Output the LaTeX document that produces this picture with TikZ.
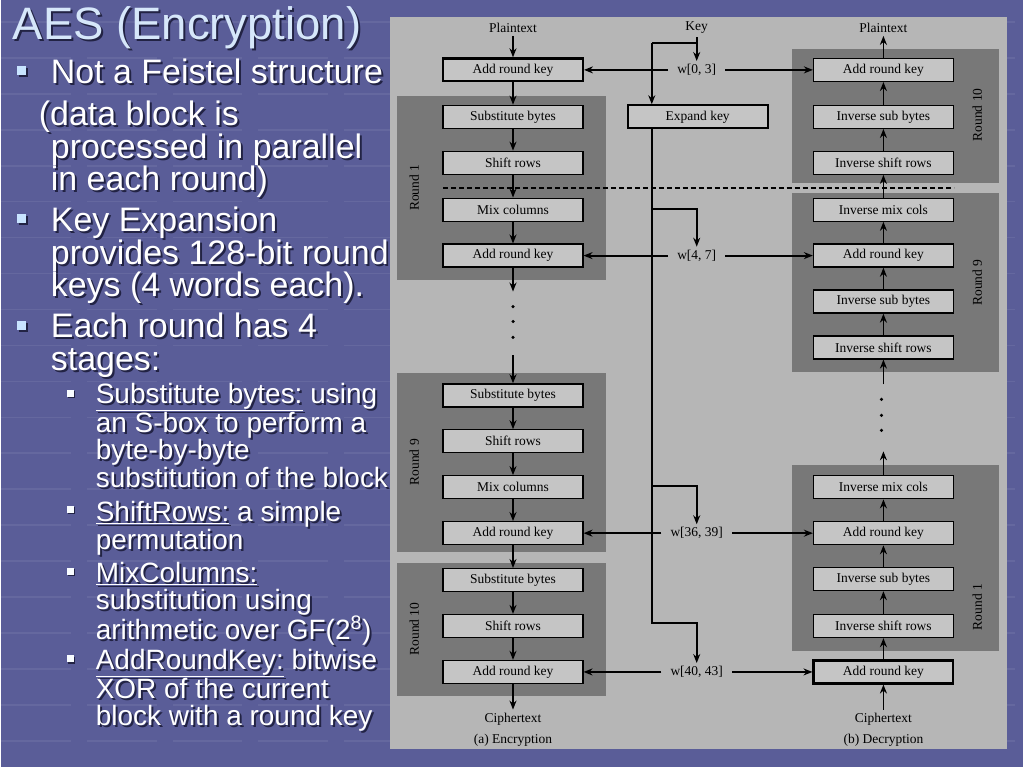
\documentclass[tikz,border=0pt]{standalone}
\usepackage{fontspec}
\setmainfont{Liberation Sans}
\newfontfamily\timesfont{Liberation Serif}
\usetikzlibrary{arrows.meta}

\definecolor{slidebg}{RGB}{90,93,152}
\definecolor{panelgray}{RGB}{182,182,182}
\definecolor{rounddark}{RGB}{120,120,120}
\definecolor{stagefill}{RGB}{197,197,197}
\definecolor{titleblue}{RGB}{214,231,250}
\definecolor{bulletblue}{RGB}{200,228,255}
\definecolor{shadowc}{RGB}{34,35,68}

% slide text with its drop shadow: name, x, y of last baseline, style, text
\newcommand{\slideline}[5]{%
  \node [#4, text=shadowc] (#1s) at ({#2+2}, {#3+2}) {#5};
  \node [#4] (#1) at (#2, #3) {#5};}

\begin{document}
\begin{tikzpicture}[x=1pt, y=-1pt,
  stage/.style={draw, fill=stagefill, line width=1.3pt, minimum width=140pt, minimum height=23pt, inner sep=0pt, font=\timesfont\fontsize{13.5}{15}\selectfont},
  keystage/.style={stage, line width=2.2pt},
  lbl/.style={inner sep=3pt, font=\timesfont\fontsize{13.5}{15}\selectfont},
  wlbl/.style={lbl, inner xsep=9pt},
  rlbl/.style={lbl, rotate=90},
  dotn/.style={circle, fill=black, minimum size=3.5pt, inner sep=0pt},
  arr/.style={-{Stealth[length=9pt, width=7pt]}, line width=1.8pt},
  stripe/.style={white, opacity=.07, line width=1.6pt, dash pattern=on 70pt off 16pt},
  head/.style={anchor=base west, inner sep=0pt, text=titleblue, font=\fontsize{45.5}{45.5}\selectfont},
  lvlone/.style={anchor=base west, inner sep=0pt, align=left, text=white, font=\fontsize{34}{32.5}\selectfont},
  lvltwo/.style={anchor=base west, inner sep=0pt, align=left, text=white, font=\fontsize{28}{27.5}\selectfont},
  sqone/.style={fill=bulletblue, minimum size=9pt, inner sep=0pt},
  sqtwo/.style={fill=white!88!bulletblue, minimum size=7pt, inner sep=0pt},
  sqshadow/.style={fill=shadowc, inner sep=0pt}]

  % slide background
  \fill [slidebg] (0,0) rectangle (1024,768);
  \foreach \y in {22,58,...,760}
    \draw [stripe] (0,\y) -- (1024,\y);
  \fill [panelgray] (390,17) rectangle (1008,750);

  % round blocks
  \fill [rounddark] (397,96) rectangle (606,280);
  \fill [rounddark] (397,374) rectangle (606,553);
  \fill [rounddark] (397,564) rectangle (606,697);
  \fill [rounddark] (792,49) rectangle (1000,183);
  \fill [rounddark] (792,193) rectangle (1000,373);
  \fill [rounddark] (792,466) rectangle (1000,652);
  \node [rlbl] (rl1) at (414,188) {Round 1};
  \node [rlbl] (rl9) at (414,463) {Round 9};
  \node [rlbl] (rl10) at (414,630) {Round 10};
  \node [rlbl] (rr10) at (978,115) {Round 10};
  \node [rlbl] (rr9) at (978,283) {Round 9};
  \node [rlbl] (rr1) at (978,608) {Round 1};

  % encryption
  \node [lbl] (ptl) at (513,28) {Plaintext};
  \node [keystage] (ea0) at (513,70) {Add round key};
  \node [stage] (e1s) at (513,117) {Substitute bytes};
  \node [stage] (e1r) at (513,163) {Shift rows};
  \node [stage] (e1m) at (513,210) {Mix columns};
  \node [stage] (e1a) at (513,256) {Add round key};
  \node [dotn] (ld1) at (513,307) {};
  \node [dotn] (ld2) at (513,322) {};
  \node [dotn] (ld3) at (513,338) {};
  \node [stage] (e9s) at (513,396) {Substitute bytes};
  \node [stage] (e9r) at (513,442) {Shift rows};
  \node [stage] (e9m) at (513,488) {Mix columns};
  \node [stage] (e9a) at (513,534) {Add round key};
  \node [stage] (e10s) at (513,581) {Substitute bytes};
  \node [stage] (e10r) at (513,627) {Shift rows};
  \node [stage] (e10a) at (513,673) {Add round key};
  \node [lbl] (ctl) at (513,720) {Ciphertext};
  \node [lbl] (capa) at (513,741) {(a) Encryption};
  \coordinate (lgap1) at (513,292);
  \coordinate (lgap2) at (513,356);

  % decryption
  \node [lbl] (ptr) at (884,28) {Plaintext};
  \node [stage] (d10a) at (884,70) {Add round key};
  \node [stage] (d10s) at (884,117) {Inverse sub bytes};
  \node [stage] (d10r) at (884,163) {Inverse shift rows};
  \node [stage] (d9m) at (884,210) {Inverse mix cols};
  \node [stage] (d9a) at (884,256) {Add round key};
  \node [stage] (d9s) at (884,302) {Inverse sub bytes};
  \node [stage] (d9r) at (884,348) {Inverse shift rows};
  \node [dotn] (rd1) at (882,400) {};
  \node [dotn] (rd2) at (882,416) {};
  \node [dotn] (rd3) at (882,431) {};
  \node [stage] (d1m) at (884,488) {Inverse mix cols};
  \node [stage] (d1a) at (884,534) {Add round key};
  \node [stage] (d1s) at (884,580) {Inverse sub bytes};
  \node [stage] (d1r) at (884,627) {Inverse shift rows};
  \node [keystage] (d0a) at (884,673) {Add round key};
  \node [lbl] (ctr) at (884,720) {Ciphertext};
  \node [lbl] (capb) at (884,741) {(b) Decryption};
  \coordinate (rgap1) at (884,385);
  \coordinate (rgap2) at (884,452);

  % key schedule
  \node [lbl] (key) at (697,28) {Key};
  \node [wlbl] (w0) at (697,70) {w[0, 3]};
  \node [keystage] (expand) at (698,117) {Expand key};
  \node [wlbl] (w1) at (697,256) {w[4, 7]};
  \node [wlbl] (w9) at (697,534) {w[36, 39]};
  \node [wlbl] (w10) at (697,673) {w[40, 43]};
  \coordinate (kj) at (697,43);
  \coordinate (kl) at (652,43);
  \coordinate (kb1) at (652,209);
  \coordinate (kb9) at (652,487);
  \coordinate (kb10) at (652,624);

  \foreach \a/\b in {ptl/ea0, ea0/e1s, e1s/e1r, e1r/e1m, e1m/e1a, e9s/e9r, e9r/e9m, e9m/e9a, e9a/e10s, e10s/e10r, e10r/e10a, e10a/ctl}
    \draw [arr] (\a.south) -- (\b.north);
  \draw [arr] (e1a.south) -- (lgap1);
  \draw [arr] (lgap2) -- (e9s.north);
  \foreach \a/\b in {d10a/ptr, d10s/d10a, d10r/d10s, d9m/d10r, d9a/d9m, d9s/d9a, d9r/d9s, d1a/d1m, d1s/d1a, d1r/d1s, d0a/d1r, ctr/d0a}
    \draw [arr] (\a.north) -- (\b.south);
  \draw [arr] (rgap1) -- (d9r.south);
  \draw [arr] (d1m.north) -- (rgap2);

  \draw [arr] (key.south) -- (w0.north);
  \draw [line width=1.8pt] (kj) -- (kl);
  \draw [arr] (kl) -- (kl |- expand.north);
  \draw [arr] (expand.south -| kl) -- (kb10) -| (w10.north);
  \draw [arr] (kb1) -| (w1.north);
  \draw [arr] (kb9) -| (w9.north);
  \foreach \w/\e/\d in {w0/ea0/d10a, w1/e1a/d9a, w9/e9a/d1a, w10/e10a/d0a} {
    \draw [arr] (\w.west) -- (\e.east);
    \draw [arr] (\w.east) -- (\d.west);
  }
  \draw [line width=1.6pt, dash pattern=on 5pt off 3pt] (443,188) -- (955,188);

  % slide text
  \slideline{title}{12}{40}{head}{AES (Encryption)}
  \foreach \y [count=\i] in {71,219,326} {
    \node [sqshadow, minimum size=9pt] (bone\i s) at (23,\y+2) {};
    \node [sqone] (bone\i) at (21,\y) {};
  }
  \foreach \y [count=\i] in {394,510,572,660} {
    \node [sqshadow, minimum size=7pt] (btwo\i s) at (71,\y+1.5) {};
    \node [sqtwo] (btwo\i) at (69.5,\y) {};
  }
  \slideline{pone}{50}{84}{lvlone}{Not a Feistel structure}
  \slideline{ponex}{50}{191}{lvlone}{\hspace*{-12pt}(data block is\\processed in parallel\\in each round)}
  \slideline{ptwo}{50}{297}{lvlone}{Key Expansion\\provides 128-bit round\\keys (4 words each).}
  \slideline{pthree}{50}{371}{lvlone}{Each round has 4\\stages:}
  \slideline{qone}{95}{488}{lvltwo}{\underline{Substitute bytes:} using\\an S-box to perform a\\byte-by-byte\\substitution of the block}
  \slideline{qtwo}{95}{550}{lvltwo}{\underline{ShiftRows:} a simple\\permutation}
  \slideline{qthree}{95}{640}{lvltwo}{\underline{MixColumns:}\\substitution using\\arithmetic over GF(2\textsuperscript{8})}
  \slideline{qfour}{95}{727}{lvltwo}{\underline{AddRoundKey:} bitwise\\XOR of the current\\block with a round key}
\end{tikzpicture}
\end{document}
